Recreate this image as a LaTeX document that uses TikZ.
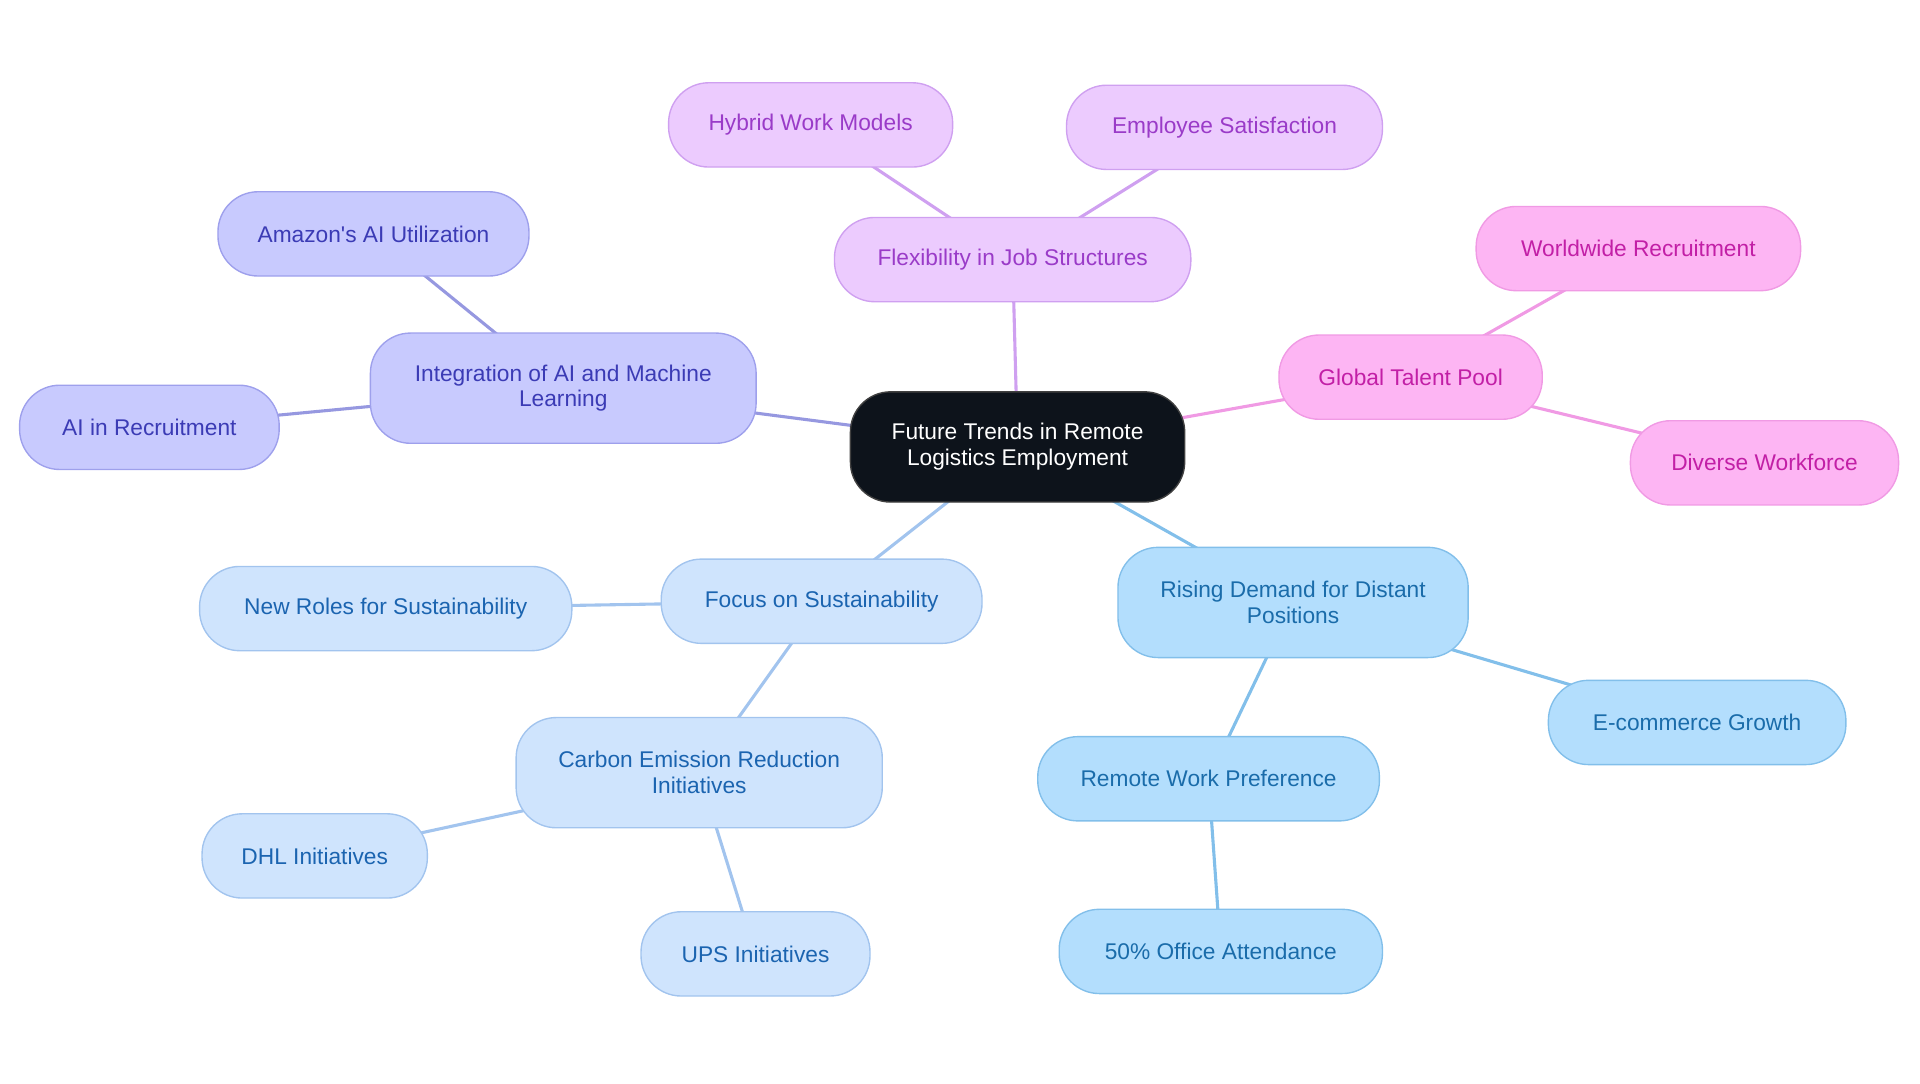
\documentclass[tikz,border=0pt]{standalone}
\usepackage{fontspec}
\setmainfont{Liberation Sans}
\usepackage{tikz}
\usetikzlibrary{positioning,calc}
\pgfdeclarelayer{background}
\pgfsetlayers{background,main}

\definecolor{rootfill}{HTML}{0D131B}
\definecolor{aifill}{HTML}{C8CAFE}\definecolor{aidraw}{HTML}{9EA0EC}\definecolor{aitext}{HTML}{3B3BB5}
\definecolor{flexfill}{HTML}{ECCBFE}\definecolor{flexdraw}{HTML}{CFA0F0}\definecolor{flextext}{HTML}{9A3BC8}
\definecolor{talfill}{HTML}{FDB5F3}\definecolor{taldraw}{HTML}{F09AE4}\definecolor{taltext}{HTML}{C21FA6}
\definecolor{demfill}{HTML}{B3DEFD}\definecolor{demdraw}{HTML}{82BFEA}\definecolor{demtext}{HTML}{1A6CAA}
\definecolor{susfill}{HTML}{CFE4FD}\definecolor{susdraw}{HTML}{A2C4EE}\definecolor{sustext}{HTML}{1B64B0}

\begin{document}
\begin{tikzpicture}[x=0.025cm, y=-0.025cm,
    box/.style={rectangle, rounded corners=0.82cm, line width=0.8pt, align=center,
        font=\fontsize{13.2}{15}\selectfont, minimum height=1.72cm, inner sep=0pt},
    tall/.style={minimum height=2.25cm},
    root/.style={box, tall, fill=rootfill, draw=black!75, text=white},
    aibox/.style={box, fill=aifill, draw=aidraw, text=aitext},
    flexbox/.style={box, fill=flexfill, draw=flexdraw, text=flextext},
    talbox/.style={box, fill=talfill, draw=taldraw, text=taltext},
    dembox/.style={box, fill=demfill, draw=demdraw, text=demtext},
    susbox/.style={box, fill=susfill, draw=susdraw, text=sustext},
    link/.style={line width=1.8pt}]
    \useasboundingbox (0,0) rectangle (1568,884.5);

    % centre
    \node[root, minimum width=273*0.025cm] (trends) at (831,365) {Future Trends in Remote\\Logistics Employment};

    % AI branch
    \node[aibox, tall, minimum width=315*0.025cm] (aiml) at (460,317) {Integration of AI and Machine\\Learning};
    \node[aibox, minimum width=254*0.025cm] (amazon) at (305,191) {Amazon\textquotesingle s AI Utilization};
    \node[aibox, minimum width=212*0.025cm] (airecruit) at (122,349) {AI in Recruitment};

    % flexibility branch
    \node[flexbox, minimum width=291*0.025cm] (flex) at (827,212) {Flexibility in Job Structures};
    \node[flexbox, minimum width=232*0.025cm] (hybrid) at (662,102) {Hybrid Work Models};
    \node[flexbox, minimum width=258*0.025cm] (satisf) at (1000,104) {Employee Satisfaction};

    % talent branch
    \node[talbox, minimum width=215*0.025cm] (talent) at (1152,308) {Global Talent Pool};
    \node[talbox, minimum width=265*0.025cm] (world) at (1338,203) {Worldwide Recruitment};
    \node[talbox, minimum width=219*0.025cm] (diverse) at (1441,378) {Diverse Workforce};

    % demand branch
    \node[dembox, tall, minimum width=286*0.025cm] (demand) at (1056,492) {Rising Demand for Distant\\Positions};
    \node[dembox, minimum width=243*0.025cm] (ecom) at (1386,590) {E-commerce Growth};
    \node[dembox, minimum width=279*0.025cm] (pref) at (987,636) {Remote Work Preference};
    \node[dembox, minimum width=264*0.025cm] (office) at (997,777) {50\% Office Attendance};

    % sustainability branch
    \node[susbox, minimum width=262*0.025cm] (sustain) at (671,491) {Focus on Sustainability};
    \node[susbox, minimum width=304*0.025cm] (roles) at (315,497) {New Roles for Sustainability};
    \node[susbox, tall, minimum width=299*0.025cm] (carbon) at (571,631) {Carbon Emission Reduction\\Initiatives};
    \node[susbox, minimum width=184*0.025cm] (dhl) at (257,699) {DHL Initiatives};
    \node[susbox, minimum width=187*0.025cm] (ups) at (617,779) {UPS Initiatives};

    % links, behind the boxes
    \begin{pgfonlayer}{background}
    \begin{scope}[link]
    \draw[aidraw!95!black] (trends.center) -- (aiml.center);
    \draw[aidraw!95!black] (aiml.center) -- (amazon.center);
    \draw[aidraw!95!black] (aiml.center) -- (airecruit.center);
    \draw[flexdraw] (trends.center) -- (flex.center);
    \draw[flexdraw] (flex.center) -- (hybrid.center);
    \draw[flexdraw] (flex.center) -- (satisf.center);
    \draw[taldraw] (trends.center) -- (talent.center);
    \draw[taldraw] (talent.center) -- (world.center);
    \draw[taldraw] (talent.center) -- (diverse.center);
    \draw[demdraw] (trends.center) -- (demand.center);
    \draw[demdraw] (demand.center) -- (ecom.center);
    \draw[demdraw] (demand.center) -- (pref.center);
    \draw[demdraw] (pref.center) -- (office.center);
    \draw[susdraw] (trends.center) -- (sustain.center);
    \draw[susdraw] (sustain.center) -- (roles.center);
    \draw[susdraw] (sustain.center) -- (carbon.center);
    \draw[susdraw] (carbon.center) -- (dhl.center);
    \draw[susdraw] (carbon.center) -- (ups.center);
    \end{scope}
    \end{pgfonlayer}
\end{tikzpicture}
\end{document}
